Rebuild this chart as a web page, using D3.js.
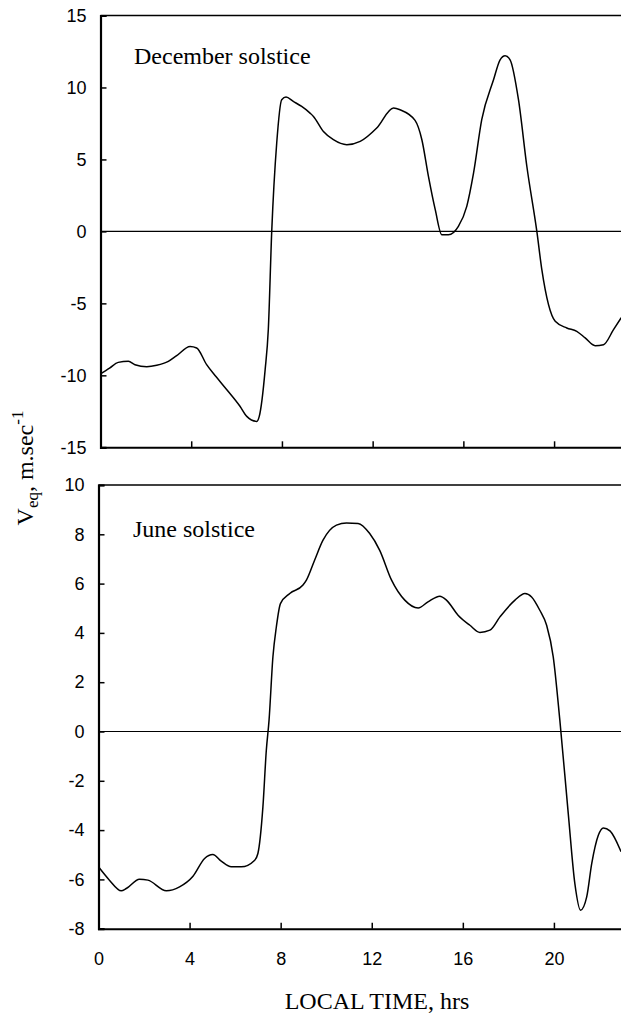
<!DOCTYPE html>
<html>
<head>
<meta charset="utf-8">
<script src="https://cdn.jsdelivr.net/npm/d3@7"></script>
<style>
  body { margin: 0; background: #fff; }
  svg { display: block; }
  .c-axis path, .c-axis line { stroke: #000; }
  .c-axis text { font-family: "Liberation Sans", Arial, sans-serif; font-size: 18px; fill: #000; }
  .c-title { font-family: "Liberation Serif", "Times New Roman", serif; font-size: 24px; fill: #000; }
</style>
</head>
<body>
<div id="chart"></div>
<script>
// Local time (hrs) and equatorial drift (m/s)
const decHours = [0, 0.4, 0.78, 1.23, 1.52, 2.04, 2.48, 2.99, 3.36, 3.95, 4.24, 4.68, 5.1, 5.57, 6.15, 6.45, 6.89, 7.0,
  7.26, 7.4, 7.55, 7.77, 7.99, 8.18, 8.5, 8.87, 9.24, 9.39, 9.83, 10.27, 10.86, 11.45, 12.18, 12.92, 13.21, 13.87,
  14.17, 14.46, 14.76, 15.05, 15.34, 15.78, 16.15, 16.45, 16.81, 17.33, 17.62, 17.84, 18.06, 18.43, 18.8, 19.24,
  19.46, 20.05, 20.56, 21.0, 21.37, 21.81, 22.18, 22.62, 22.96];
const decVeq = [-9.9, -9.5, -9.1, -9.03, -9.26, -9.4, -9.3, -9.03, -8.63, -8.0, -8.1, -9.26, -10.1, -11.0, -12.15, -12.85, -13.2, -12.85,
  -9.6, -6.8, 0, 6.14, 9.15, 9.33, 9.03, 8.68, 8.22, 7.99, 6.94, 6.37, 6.02, 6.25, 7.18, 8.57, 8.45, 7.71,
  6.37, 3.82, 1.51, -0.23, -0.23, 0.35, 1.74, 4.06, 7.76, 10.53, 11.92, 12.2, 11.92, 9.15, 4.51, 0,
  -2.66, -6.25, -6.71, -6.94, -7.4, -7.94, -7.87, -6.83, -6.0];

const junHours = [0, 0.48, 1.0, 1.22, 1.8, 2.17, 2.98, 3.56, 4.15, 4.66, 5.02, 5.39, 5.83, 6.27, 6.86, 7.0, 7.22, 7.37,
  7.49, 7.66, 7.81, 7.99, 8.4, 8.98, 9.13, 9.49, 9.86, 10.45, 10.89, 11.4, 11.91, 12.35, 12.87, 13.45, 14.04, 14.47,
  14.99, 15.28, 15.79, 16.31, 16.75, 17.19, 17.63, 18.29, 18.73, 19.02, 19.38, 19.68, 19.97, 20.26, 20.63, 20.92,
  21.17, 21.44, 21.66, 21.95, 22.17, 22.46, 22.95];
const junVeq = [-5.49, -6.03, -6.46, -6.37, -5.99, -6.03, -6.46, -6.3, -5.87, -5.15, -4.99, -5.26, -5.49, -5.49, -5.22, -4.95, -3.06, -0.76,
  0.46, 3.03, 4.24, 5.19, 5.6, 5.94, 6.14, 6.95, 7.76, 8.37, 8.46, 8.44, 8.03, 7.35, 6.14, 5.33, 5.01, 5.26,
  5.49, 5.33, 4.72, 4.31, 4.02, 4.11, 4.65, 5.33, 5.6, 5.46, 4.92, 4.31, 3.03, 0.46, -3.33, -6.17,
  -7.25, -6.71, -5.36, -4.21, -3.91, -4.03, -4.88];

const timeTicks = [0, 4, 8, 12, 16, 20];
const decTicks = [-15, -10, -5, 0, 5, 10, 15];
const junTicks = [-8, -6, -4, -2, 0, 2, 4, 6, 8, 10];

class SolsticePanel {
  constructor(svg, opts) {
    this.svg = svg;
    this.o = opts;
  }

  render() {
    const o = this.o;
    const x = d3.scaleLinear().domain([0, 24]).range([o.left, o.right]);
    const y = d3.scaleLinear().domain(o.yDomain).range([o.bottom, o.top]);
    const g = this.svg.append('g');

    // top frame line
    g.append('line')
      .attr('x1', o.left).attr('x2', o.right)
      .attr('y1', o.top).attr('y2', o.top)
      .attr('stroke', '#000').attr('stroke-width', 1.6);

    // zero line
    g.append('line')
      .attr('x1', o.left).attr('x2', o.right)
      .attr('y1', y(0)).attr('y2', y(0))
      .attr('stroke', '#000').attr('stroke-width', 1.2);

    const xAxis = d3.axisBottom(x).tickValues(timeTicks).tickSize(-6).tickPadding(24);
    if (!o.showTime) xAxis.tickFormat('');
    g.append('g')
      .attr('class', 'c-axis')
      .attr('transform', 'translate(0,' + o.bottom + ')')
      .call(xAxis)
      .call(s => s.select('.domain').attr('stroke-width', 2))
      .call(s => s.selectAll('.tick line').attr('stroke-width', 1.5));

    // plain hyphen for negatives, like the original
    g.append('g')
      .attr('class', 'c-axis')
      .attr('transform', 'translate(' + o.left + ',0)')
      .call(d3.axisLeft(y).tickValues(o.yTicks).tickSize(-6).tickPadding(14).tickFormat(d => String(d)))
      .call(s => s.select('.domain').attr('stroke-width', 2.2))
      .call(s => s.selectAll('.tick line').attr('stroke-width', 1.5));

    const line = d3.line()
      .x((d, i) => x(o.hours[i]))
      .y(d => y(d))
      .curve(d3.curveMonotoneX);

    g.append('path')
      .attr('d', line(o.values))
      .attr('fill', 'none')
      .attr('stroke', '#000')
      .attr('stroke-width', 1.5);

    g.append('text')
      .attr('class', 'c-title')
      .attr('x', o.labelX).attr('y', o.labelY)
      .text(o.label);
  }
}

const svg = d3.select('#chart').append('svg')
  .attr('width', 621).attr('height', 1014);

new SolsticePanel(svg, {
  left: 100.5, right: 644.8, top: 15.5, bottom: 447.3,
  yDomain: [-15, 15], yTicks: decTicks,
  hours: decHours, values: decVeq,
  label: 'December solstice', labelX: 134, labelY: 64, showTime: false
}).render();

new SolsticePanel(svg, {
  left: 98.5, right: 645, top: 485, bottom: 928.7,
  yDomain: [-8, 10], yTicks: junTicks,
  hours: junHours, values: junVeq,
  label: 'June solstice', labelX: 133, labelY: 537, showTime: true
}).render();

svg.append('text')
  .attr('class', 'c-title')
  .attr('x', 377).attr('y', 1009)
  .attr('text-anchor', 'middle')
  .text('LOCAL TIME, hrs');

const yTitle = svg.append('text')
  .attr('class', 'c-title')
  .attr('font-size', 26)
  .attr('text-anchor', 'middle')
  .attr('transform', 'translate(33,468) rotate(-90)');
yTitle.append('tspan').text('V');
yTitle.append('tspan').attr('font-size', 17).attr('dy', 5).text('eq');
yTitle.append('tspan').attr('dy', -5).text(', m.sec');
yTitle.append('tspan').attr('font-size', 17).attr('dy', -10).text('-1');
</script>
</body>
</html>
